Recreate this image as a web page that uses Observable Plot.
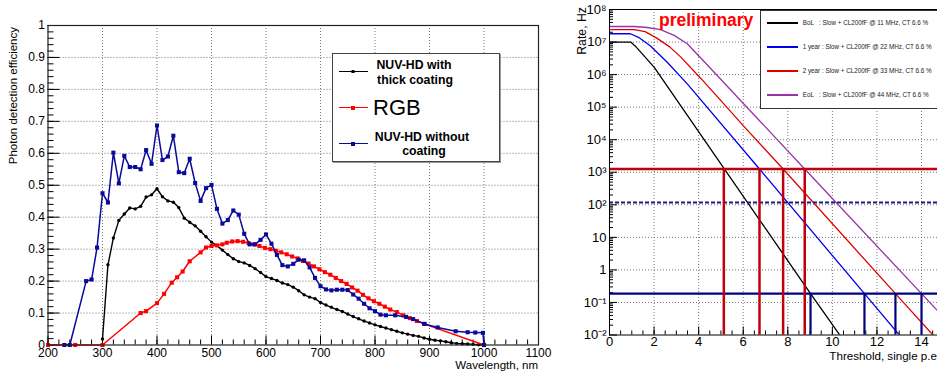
<!DOCTYPE html>
<html><head><meta charset="utf-8">
<script src="https://cdn.jsdelivr.net/npm/d3@7"></script>
<script src="https://cdn.jsdelivr.net/npm/@observablehq/plot@0.6"></script>
<style>
html,body{margin:0;padding:0;background:#fff;overflow:hidden;width:937px;height:378px;}
#wrap{position:relative;width:937px;height:378px;overflow:hidden;font-family:"Liberation Sans",Arial,sans-serif;color:#000;}
.abs{position:absolute;white-space:nowrap;}
</style></head><body><div id="wrap"></div>
<script>
// ---------- LEFT PANEL DATA: photon detection efficiency ----------
const thickWl = [300,310,320,330,340,350,360,370,380,390,400,410,420,430,440,450,460,470,480,490,500,510,520,530,540,550,560,570,580,590,600,610,620,630,640,650,660,670,680,690,700,710,720,730,740,750,760,770,780,790,800,810,820,830,840,850,860,870,880,890,900,910,920,930,940,950,960,970,980,990,1000];
const thickPde = [0.019,0.251,0.335,0.39,0.41,0.429,0.426,0.434,0.463,0.47,
  0.489,0.464,0.451,0.447,0.43,0.397,0.384,0.373,0.356,0.339,
  0.322,0.311,0.297,0.283,0.27,0.261,0.257,0.249,0.239,0.227,
  0.214,0.208,0.202,0.194,0.189,0.181,0.17,0.157,0.15,0.145,
  0.133,0.125,0.118,0.111,0.105,0.097,0.089,0.082,0.075,0.069,
  0.063,0.058,0.053,0.048,0.043,0.038,0.034,0.03,0.027,0.022,
  0.018,0.015,0.013,0.01,0.007,0.005,0.004,0.003,0.002,0.001,0];
const rgbWl = [200,250,300,370,380,400,413,427,437,447,460,480,490,500,510,520,528,538,548,558,568,578,588,598,608,618,628,638,648,658,668,678,688,698,708,718,728,738,748,758,768,778,788,798,808,818,828,840,852,864,877,890,1000];
const rgbPde = [0,0,0,0.1,0.106,0.131,0.16,0.195,0.212,0.23,0.262,0.29,0.305,0.31,0.312,0.315,0.32,0.324,0.325,0.323,0.319,0.315,0.31,0.304,0.3,0.295,0.29,0.284,0.277,0.271,0.263,0.255,0.246,0.237,0.228,0.22,0.21,0.2,0.191,0.18,0.17,0.157,0.146,0.137,0.129,0.12,0.111,0.103,0.093,0.084,0.075,0.066,0];
const bareWl = [230,240,270,280,290,300,310,320,330,340,350,360,370,380,390,400,410,420,430,440,450,460,470,480,490,500,510,520,530,540,550,560,570,580,590,600,610,620,630,640,650,660,670,680,690,700,710,720,730,740,750,760,770,780,790,800,810,820,837,857,870,891,915,948,970,984,998,1000];
const barePde = [0,0,0.2,0.205,0.305,0.475,0.446,0.602,0.506,0.592,0.557,0.557,0.55,0.61,0.567,0.687,0.579,0.59,0.655,0.541,0.538,0.583,0.507,0.451,0.491,0.501,0.426,0.38,0.391,0.421,0.408,0.348,0.315,0.315,0.329,0.346,0.317,0.282,0.25,0.246,0.254,0.267,0.265,0.243,0.21,0.184,0.174,0.171,0.173,0.173,0.172,0.158,0.145,0.129,0.115,0.106,0.095,0.093,0.093,0.088,0.081,0.066,0.055,0.043,0.04,0.039,0.038,0];
const pdeTickX = [200,300,400,500,600,700,800,900,1000,1100];
const pdeTickXLabels = ["200","300","400","500","600","700","800","900","1000","1100"];
const pdeTickY = [0,0.1,0.2,0.3,0.4,0.5,0.6,0.7,0.8,0.9,1];
const pdeTickYLabels = ["0","0.1","0.2","0.3","0.4","0.5","0.6","0.7","0.8","0.9","1"];
const pdeLegend = [["NUV-HD with","thick coating"],["RGB"],["NUV-HD without","coating"]];

// ---------- RIGHT PANEL DATA: dark-count rate vs threshold ----------
const bolX = [0,0.95,1.15,2,9.02,10.6];
const bolRate = [1e7,1e7,7.6e6,1.7e6,0.186,0.0055];
const yr1X = [0,0.94,1.3,1.84,2.59,3.49,6.73,11.44,13.4];
const yr1Rate = [1.8e7,1.8e7,1.4e7,7.6e6,2.4e6,5.2e5,1.26e3,0.186,0.0048];
const yr2X = [0,1.1,1.6,2.14,2.7,3.19,4.08,5.13,6.0,7.79,12.83,15];
const yr2Rate = [2.4e7,2.4e7,2.1e7,1.3e7,7.1e6,3.5e6,7.9e5,1.26e5,2.7e4,1.26e3,0.186,0.0043];
const eolX = [0,1.1,1.7,2.29,2.9,3.49,4.38,8.76,14.0,15];
const eolRate = [3e7,3e7,2.8e7,2.4e7,1.6e7,8.9e6,2e6,1.26e3,0.186,0.035];
const rateSeries = ["BoL","1 year","2 year","EoL"];
const rateColors = ["#000000","#0000ee","#e00000","#9933aa"];
const rateLegend = ["BoL   : Slow + CL200fF @ 11 MHz, CT 6.6 %","1 year : Slow + CL200fF @ 22 MHz, CT 6.6 %","2 year : Slow + CL200fF @ 33 MHz, CT 6.6 %","EoL   : Slow + CL200fF @ 44 MHz, CT 6.6 %"];
const redLevel = 1.26e3;
const dashLevel = 1.17e2;
const navyLevel = 0.186;
const redCrossX = [5.13,6.73,7.79,8.76];
const navyCrossX = [9.02,11.44,12.83,14.0];
const thrTickX = [0,2,4,6,8,10,12,14];
const thrTickXLabels = ["0","2","4","6","8","10","12","14"];
const rateTickY = [1e-2,1e-1,1,10,1e2,1e3,1e4,1e5,1e6,1e7,1e8];
const rateTickYLabels = ["10\u207B\u00B2","10\u207B\u00B9","1","10","10\u00B2","10\u00B3","10\u2074","10\u2075","10\u2076","10\u2077","10\u2078"];

// ---------- build ----------
const FONT = "Liberation Sans, Arial, sans-serif";
const wrap = document.getElementById("wrap");
const zip = (xs, ys) => xs.map((x, i) => ({x, y: ys[i]}));
const dotted = {stroke: "#555", strokeWidth: 0.8, strokeDasharray: "1,2"};

// Left
const L = {W: 560, H: 378, ml: 47.5, mr: 22, mt: 25, mb: 33.5};
const LFW = L.W - L.ml - L.mr, LFH = L.H - L.mt - L.mb;
const thick = zip(thickWl, thickPde), rgb = zip(rgbWl, rgbPde), bare = zip(bareWl, barePde);
const left = Plot.plot({
  width: L.W, height: L.H,
  marginLeft: L.ml, marginRight: L.mr, marginTop: L.mt, marginBottom: L.mb,
  x: {domain: [200, 1100]},
  y: {domain: [0, 1]},
  style: {fontFamily: FONT, fontSize: "12px", background: "transparent", color: "#000"},
  marks: [
    Plot.ruleX(pdeTickX.slice(1, -1), dotted),
    Plot.ruleY(pdeTickY.slice(1, -1), dotted),
    Plot.ruleX(d3.range(200, 1101, 20), {stroke: "#000", insetTop: LFH - 5}),
    Plot.ruleX(pdeTickX, {stroke: "#000", insetTop: LFH - 9}),
    Plot.ruleY(d3.range(0, 51).map(i => i / 50), {stroke: "#000", insetRight: LFW - 6}),
    Plot.ruleY(pdeTickY, {stroke: "#000", insetRight: LFW - 12}),
    Plot.axisX({ticks: pdeTickX, tickFormat: d => pdeTickXLabels[pdeTickX.indexOf(d)], tickSize: 0, tickPadding: 3, fontSize: 12, label: null}),
    Plot.axisY({ticks: pdeTickY, tickFormat: d => pdeTickYLabels[pdeTickY.indexOf(d)], tickSize: 0, tickPadding: 3, fontSize: 12, label: null}),
    Plot.line(thick, {x: "x", y: "y", stroke: "#000", strokeWidth: 1.4}),
    Plot.dot(thick, {x: "x", y: "y", r: 1.7, fill: "#000"}),
    Plot.line(rgb, {x: "x", y: "y", stroke: "#ff0000", strokeWidth: 1.5}),
    Plot.dot(rgb, {x: "x", y: "y", r: 2.3, symbol: "square", fill: "#ff0000"}),
    Plot.line(bare, {x: "x", y: "y", stroke: "#0a0a9a", strokeWidth: 1.5}),
    Plot.dot(bare, {x: "x", y: "y", r: 2.3, symbol: "square", fill: "#0a0a9a"}),
    Plot.frame({stroke: "#222", strokeWidth: 1.2})
  ]
});
left.style.position = "absolute"; left.style.left = "0px"; left.style.top = "0px";
wrap.appendChild(left);

// Right
const R = {W: 400, H: 378, ml: 49, mr: 16.7, mt: 9, mb: 43.5};
const RFW = R.W - R.ml - R.mr;
const curves = [
  ...zip(bolX, bolRate).map(d => ({...d, s: rateSeries[0]})),
  ...zip(yr1X, yr1Rate).map(d => ({...d, s: rateSeries[1]})),
  ...zip(yr2X, yr2Rate).map(d => ({...d, s: rateSeries[2]})),
  ...zip(eolX, eolRate).map(d => ({...d, s: rateSeries[3]}))
];
const logMinor = [];
for (let e = -2; e < 8; e++) for (let m = 2; m < 10; m++) logMinor.push(m * Math.pow(10, e));
const right = Plot.plot({
  width: R.W, height: R.H,
  marginLeft: R.ml, marginRight: R.mr, marginTop: R.mt, marginBottom: R.mb,
  x: {domain: [0, 15]},
  y: {type: "log", domain: [1e-2, 1e8]},
  color: {domain: rateSeries, range: rateColors},
  style: {fontFamily: FONT, fontSize: "13px", background: "transparent", color: "#000"},
  marks: [
    Plot.ruleX(thrTickX.slice(1), dotted),
    Plot.ruleY(rateTickY.slice(1, -1), dotted),
    Plot.ruleX(d3.range(0, 15.01, 0.5), {stroke: "#000", insetTop: (R.H - R.mt - R.mb) - 4}),
    Plot.ruleX(thrTickX, {stroke: "#000", insetTop: (R.H - R.mt - R.mb) - 8}),
    Plot.ruleY(logMinor, {stroke: "#000", insetRight: RFW - 4}),
    Plot.ruleY(rateTickY, {stroke: "#000", insetRight: RFW - 8}),
    Plot.axisX({ticks: thrTickX, tickFormat: d => thrTickXLabels[thrTickX.indexOf(d)], tickSize: 0, tickPadding: 2, fontSize: 13, label: null}),
    Plot.axisY({ticks: rateTickY, tickFormat: d => rateTickYLabels[rateTickY.indexOf(d)], tickSize: 0, tickPadding: 3, fontSize: 13, label: null}),
    Plot.line(curves, {x: "x", y: "y", z: "s", stroke: "s", strokeWidth: 1.3, clip: true}),
    Plot.ruleY([redLevel], {stroke: "#c0000a", strokeWidth: 2.5}),
    Plot.ruleY([dashLevel], {stroke: "#1a1a80", strokeWidth: 2, strokeDasharray: "4,2"}),
    Plot.ruleY([navyLevel], {stroke: "#000080", strokeWidth: 2.2}),
    Plot.ruleX(redCrossX, {x: d => d, y1: 1e-2, y2: redLevel, stroke: "#c0000a", strokeWidth: 2.5}),
    Plot.ruleX(navyCrossX, {x: d => d, y1: 1e-2, y2: navyLevel, stroke: "#000080", strokeWidth: 2.2}),
    Plot.frame({stroke: "#000", strokeWidth: 1})
  ]
});
right.style.position = "absolute"; right.style.left = "560px"; right.style.top = "0px";
wrap.appendChild(right);

// ---------- overlays: titles & legends ----------
function put(text, css) {
  const d = document.createElement("div");
  d.className = "abs"; d.textContent = text;
  Object.assign(d.style, css); wrap.appendChild(d); return d;
}
function vtitle(text, cx, topEnd, size) {
  put(text, {left: (cx - 7) + "px", top: (topEnd + 300) + "px", width: "300px", lineHeight: "14px",
    textAlign: "right", fontSize: size + "px", transform: "rotate(-90deg)", transformOrigin: "top left"});
}
function htitle(text, rightEdge, cy, size) {
  put(text, {left: (rightEdge - 300) + "px", top: (cy - 6) + "px", width: "300px", lineHeight: "12px",
    textAlign: "right", fontSize: size + "px"});
}
vtitle("Photon detection efficiency", 13.3, 27, 11.5);
htitle("Wavelength, nm", 538, 365, 11.5);
vtitle("Rate, Hz", 581.7, 7, 12.3);
htitle("Threshold, single p.e", 937, 355.5, 11.6);

// left legend
put("", {left: "332px", top: "53px", width: "166px", height: "107px", border: "1.3px solid #444", background: "#fff", boxShadow: "1px 1px 0 #999"});
const legC = ["#000", "#ff0000", "#0a0a9a"], legY = [71.7, 107.7, 143.7];
legY.forEach((y, i) => {
  put("", {left: "338.7px", top: (y - 0.75) + "px", width: "29px", height: "1.5px", background: legC[i]});
  const s = i === 0 ? 3.6 : 4.4;
  put("", {left: (353.2 - s / 2) + "px", top: (y - s / 2) + "px", width: s + "px", height: s + "px", background: legC[i], borderRadius: i === 0 ? "50%" : "0"});
});
const bold = {fontWeight: "bold", fontSize: "12.3px", lineHeight: "14px", width: "160px", textAlign: "center"};
put(pdeLegend[0][0], {...bold, left: (414 - 80) + "px", top: (65 - 7) + "px"});
put(pdeLegend[0][1], {...bold, left: (415 - 80) + "px", top: (79.5 - 7) + "px"});
put(pdeLegend[1][0], {left: "373px", top: (108 - 12) + "px", fontSize: "22px", lineHeight: "24px"});
put(pdeLegend[2][0], {...bold, left: (422 - 80) + "px", top: (137 - 7) + "px"});
put(pdeLegend[2][1], {...bold, left: (424 - 80) + "px", top: (151 - 7) + "px"});

// right legend
put("", {left: "760px", top: "10px", width: "200px", height: "97px", border: "1px solid #333", background: "#fff"});
[22.7, 46.7, 70.7, 95.3].forEach((y, i) => {
  put("", {left: "766.7px", top: (y - 1) + "px", width: "31px", height: "2px", background: rateColors[i]});
  put(rateLegend[i], {left: "802.7px", top: (y - 4) + "px", fontSize: "6.3px", lineHeight: "8px", color: "#222", whiteSpace: "pre"});
});
put("preliminary", {left: "659px", top: "10px", fontSize: "17.5px", lineHeight: "20px", fontWeight: "bold", color: "#ff0000"});
</script>
</body></html>
